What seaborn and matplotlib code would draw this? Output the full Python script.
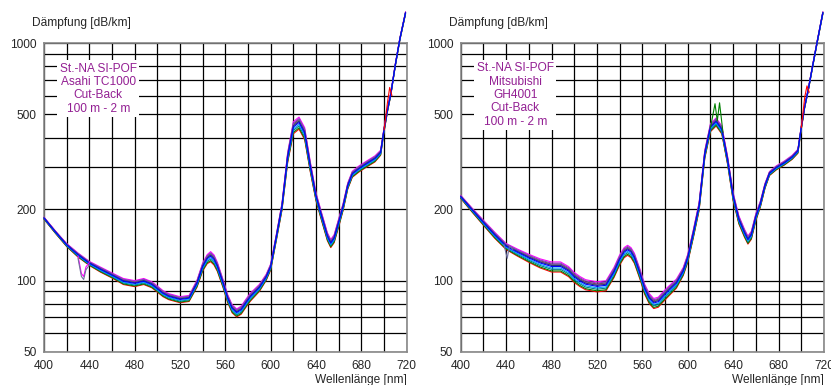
import numpy as np
import pandas as pd
import matplotlib
matplotlib.use("Agg")
import matplotlib.pyplot as plt
import matplotlib.ticker as mticker
import seaborn as sns

# wavelength grid [nm]
wl = [400, 410, 420, 430, 440, 450, 460, 470, 480, 488, 495, 500, 505, 510, 520,
      528, 535, 540, 544, 547, 550, 553, 558, 562, 566, 570, 574, 578, 582, 590,
      596, 600, 605, 610, 615, 620, 625, 630, 635, 640, 645, 650, 653, 656, 660,
      664, 668, 672, 678, 685, 692, 697, 700, 703, 706, 710, 714, 719]

# Asahi TC1000 - middle curve [dB/km]
asahi = [183, 160, 141, 128, 118, 111, 105, 99, 97, 99, 96, 92, 88, 85.5, 83,
         84, 97, 114, 123, 126, 122, 114, 97, 84, 76, 73, 75, 80, 85, 93,
         103, 114, 152, 205, 330, 440, 460, 415, 300, 225, 185, 153, 143, 150, 175,
         205, 250, 280, 295, 310, 325, 345, 430, 520, 610, 810, 1040, 1340]
# relative spread of the measurements
asahi_spread = [0.01, 0.012, 0.015, 0.02, 0.02, 0.025, 0.025, 0.03, 0.03, 0.03, 0.03, 0.03, 0.03, 0.03, 0.03,
                0.03, 0.035, 0.04, 0.045, 0.05, 0.05, 0.045, 0.04, 0.04, 0.04, 0.04, 0.04, 0.04, 0.04, 0.035,
                0.03, 0.03, 0.03, 0.035, 0.05, 0.06, 0.06, 0.06, 0.05, 0.04, 0.04, 0.04, 0.04, 0.04, 0.04,
                0.035, 0.03, 0.03, 0.03, 0.03, 0.03, 0.025, 0.02, 0.015, 0.01, 0.01, 0.01, 0.01]

# Mitsubishi GH4001 - middle curve [dB/km]
mitsu = [225, 198, 175, 155, 139, 131, 124, 118, 114, 114, 109, 103, 99, 96, 94,
         95, 108, 122, 131, 134, 131, 124, 106, 92, 84, 80, 81, 85, 89, 97,
         109, 124, 158, 205, 340, 440, 465, 430, 322, 225, 180, 158, 148, 155, 185,
         210, 250, 282, 298, 312, 330, 350, 440, 540, 630, 800, 1010, 1340]
mitsu_spread = [0.015, 0.02, 0.025, 0.03, 0.03, 0.035, 0.04, 0.045, 0.05, 0.05, 0.05, 0.05, 0.05, 0.05, 0.05,
                0.05, 0.05, 0.05, 0.05, 0.05, 0.05, 0.05, 0.05, 0.05, 0.05, 0.05, 0.05, 0.05, 0.05, 0.045,
                0.04, 0.04, 0.04, 0.04, 0.04, 0.04, 0.04, 0.04, 0.04, 0.04, 0.04, 0.04, 0.04, 0.04, 0.035,
                0.03, 0.025, 0.02, 0.02, 0.02, 0.02, 0.02, 0.015, 0.01, 0.01, 0.01, 0.01, 0.01]

# single measurements in drawing order, position inside the bundle (+1 top, -1 bottom)
curve_names = ["red", "green", "teal", "maroon", "magenta", "violet", "grey", "cyan", "navy", "blue"]
curve_pos = [-0.95, -0.75, -0.45, 0.55, 1.0, 0.75, 0.45, -0.2, 0.3, 0.1]
curve_colors = ["#ff0000", "#008000", "#008080", "#800000", "#ff00ff",
                "#8040c0", "#7070a0", "#00a0ff", "#303070", "#0000ff"]

# small glitches
asahi_dip_wl = [430, 433, 435, 437, 440]
asahi_dip_val = [127, 107, 104, 114, 119]
asahi_spike_wl = [700, 703, 705, 707]
asahi_spike_val = [430, 560, 650, 600]
mitsu_spike_wl = [620, 624, 626, 628, 631]
mitsu_spike_val = [440, 555, 470, 560, 420]
mitsu_dip_wl = [438, 441, 443, 446]
mitsu_dip_val = [142, 124, 140, 135]
mitsu_red_wl = [700, 703, 705, 707]
mitsu_red_val = [440, 590, 660, 620]

boxes = ["St.-NA SI-POF\nAsahi TC1000\nCut-Back\n100 m - 2 m",
         "St.-NA SI-POF\nMitsubishi\nGH4001\nCut-Back\n100 m - 2 m"]

sns.set_style("white")
plt.rcParams["font.family"] = ["Liberation Sans", "DejaVu Sans"]
fs = 8.6
purple = "#931f93"


def bundle(base, spread):
    rows = []
    for name, p in zip(curve_names, curve_pos):
        for x, b, s in zip(wl, base, spread):
            rows.append((name, x, b * (1 + p * s)))
    return pd.DataFrame(rows, columns=["curve", "wl", "att"])


fig = plt.figure(figsize=(8.31, 3.85), dpi=100)
ax1 = fig.add_axes([44 / 831, 33 / 385, 362.7 / 831, 309 / 385])
ax2 = fig.add_axes([460.7 / 831, 33 / 385, 363.3 / 831, 309 / 385])

data = [(asahi, asahi_spread), (mitsu, mitsu_spread)]
palette = dict(zip(curve_names, curve_colors))

for ax, (base, spread), txt, ty in zip([ax1, ax2], data, boxes, [0.852, 0.832]):
    df = bundle(base, spread)
    sns.lineplot(data=df, x="wl", y="att", hue="curve", hue_order=curve_names,
                 palette=palette, estimator=None, legend=False, lw=0.8,
                 clip_on=False, ax=ax, zorder=5)
    ax.set_yscale("log")
    ax.set_xlim(400, 720)
    ax.set_ylim(50, 1000)
    ax.set_xticks(range(400, 721, 40))
    ax.xaxis.set_minor_locator(mticker.FixedLocator(range(420, 720, 40)))
    ax.yaxis.set_major_locator(mticker.FixedLocator([50, 100, 200, 500, 1000]))
    ax.yaxis.set_major_formatter(mticker.FixedFormatter(["50", "100", "200", "500", "1000"]))
    ax.yaxis.set_minor_locator(mticker.FixedLocator([60, 70, 80, 90, 300, 400, 600, 700, 800, 900]))
    ax.yaxis.set_minor_formatter(mticker.NullFormatter())
    ax.grid(which="both", color="black", lw=0.9)
    ax.set_axisbelow(True)
    ax.tick_params(which="both", length=0, labelsize=fs)
    ax.tick_params(axis="y", pad=5.5)
    ax.tick_params(axis="x", pad=5.5)
    for sp in ax.spines.values():
        sp.set_color("#888888")
        sp.set_linewidth(1.2)
    ax.set_xlabel("")
    ax.set_ylabel("")
    ax.text(-0.033, 1.065, "Dämpfung [dB/km]", transform=ax.transAxes,
            fontsize=fs, ha="left", va="center")
    ax.text(1.0, -0.09, "Wellenlänge [nm]", transform=ax.transAxes,
            fontsize=fs, ha="right", va="center")
    ax.text(0.15, ty, txt, transform=ax.transAxes, fontsize=fs,
            color=purple, ha="center", va="center", linespacing=1.15, zorder=10,
            bbox=dict(facecolor="white", edgecolor="none", pad=1.8))

ax1.plot(asahi_dip_wl, asahi_dip_val, color="#ff00ff", lw=0.8, zorder=6)
ax1.plot(asahi_dip_wl, [v - 3 for v in asahi_dip_val], color="#7070a0", lw=0.8, zorder=6)
ax1.plot(asahi_spike_wl, asahi_spike_val, color="#ff0000", lw=0.8, zorder=6)
ax2.plot(mitsu_spike_wl, mitsu_spike_val, color="#008000", lw=0.8, zorder=6)
ax2.plot(mitsu_dip_wl, mitsu_dip_val, color="#7070a0", lw=0.8, zorder=6)
ax2.plot(mitsu_red_wl, mitsu_red_val, color="#ff0000", lw=0.8, zorder=6)

fig.savefig("out.png", dpi=100)
